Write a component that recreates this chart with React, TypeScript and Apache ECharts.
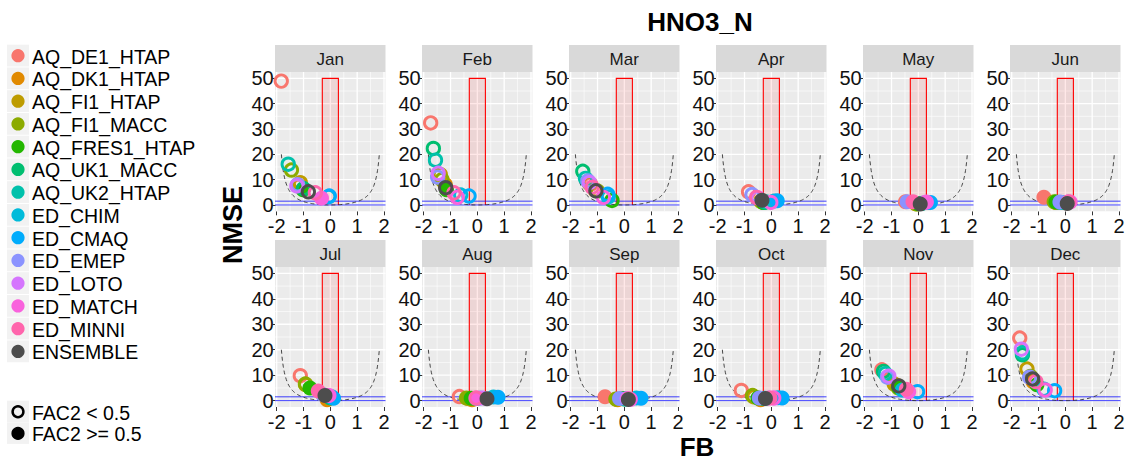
import React, { useEffect, useRef } from "react";
import * as echarts from "echarts";

const MODELS = [
  "AQ_DE1_HTAP", "AQ_DK1_HTAP", "AQ_FI1_HTAP", "AQ_FI1_MACC", "AQ_FRES1_HTAP",
  "AQ_UK1_MACC", "AQ_UK2_HTAP", "ED_CHIM", "ED_CMAQ", "ED_EMEP", "ED_LOTO",
  "ED_MATCH", "ED_MINNI", "ENSEMBLE",
];
const COLORS = [
  "#F8766D", "#E18A00", "#BE9C00", "#8CAB00", "#24B700", "#00BE70", "#00C1AB",
  "#00BBDA", "#00ACFC", "#8B93FF", "#D575FE", "#F962DD", "#FF65AC", "#4D4D4D",
];
const MONTHS = ["Jan", "Feb", "Mar", "Apr", "May", "Jun", "Jul", "Aug", "Sep", "Oct", "Nov", "Dec"];

// model order as in MODELS; FAC2: 1 = FAC2 >= 0.5 (filled), 0 = FAC2 < 0.5 (open)
const JAN_FB = [-1.83, -1.15, -1.12, -1.45, -1.02, -1.0, -1.57, -0.06, -0.04, -1.22, -1.25, -0.33, -0.56, -0.82];
const JAN_NMSE = [48.9, 7.5, 8.8, 13.8, 6.0, 6.5, 16.1, 3.3, 3.5, 8.0, 7.5, 2.7, 4.8, 5.2];
const JAN_FAC2 = [0, 0, 0, 0, 1, 0, 0, 0, 0, 0, 0, 1, 0, 0];

const FEB_FB = [-1.74, -1.2, -1.38, -1.32, -1.15, -1.64, -1.56, -0.62, -0.31, -1.48, -1.46, -0.75, -0.87, -1.18];
const FEB_NMSE = [32.4, 8.0, 12.0, 10.0, 6.0, 22.3, 17.7, 3.9, 3.5, 11.0, 12.5, 3.0, 4.8, 6.8];
const FEB_FAC2 = [0, 0, 0, 0, 1, 0, 0, 0, 0, 0, 0, 0, 0, 0];

const MAR_FB = [-1.26, -1.1, -1.3, -1.0, -0.46, -1.55, -1.45, -0.6, -0.62, -1.36, -1.3, -0.78, -1.2, -1.06];
const MAR_NMSE = [8.2, 6.0, 8.5, 5.5, 1.8, 13.3, 10.5, 3.2, 4.2, 9.5, 8.8, 3.0, 7.0, 5.6];
const MAR_FAC2 = [0, 0, 0, 0, 0, 0, 0, 0, 0, 0, 0, 0, 0, 0];

const APR_FB = [-0.85, -0.3, -0.4, -0.35, -0.3, -0.25, -0.2, 0.1, 0.22, -0.72, -0.5, -0.02, -0.55, -0.35];
const APR_NMSE = [5.2, 1.0, 1.5, 1.2, 1.0, 1.0, 1.3, 1.6, 1.7, 4.1, 2.8, 1.0, 3.0, 1.9];
const APR_FAC2 = [0, 1, 1, 1, 1, 1, 1, 1, 1, 0, 0, 0, 0, 1];

const MAY_FB = [-0.48, -0.1, -0.05, -0.07, 0.0, 0.1, 0.15, 0.35, 0.45, -0.42, 0.25, 0.3, -0.2, 0.07];
const MAY_NMSE = [1.3, 0.5, 0.5, 0.4, 0.5, 0.6, 0.7, 1.0, 1.0, 1.3, 1.0, 1.2, 1.3, 0.4];
const MAY_FAC2 = [1, 1, 1, 1, 1, 1, 1, 1, 1, 1, 1, 1, 1, 1];

const JUN_FB = [-0.8, -0.35, -0.38, -0.42, -0.35, -0.2, -0.15, 0.05, 0.1, -0.2, 0.1, 0.18, 0.12, 0.07];
const JUN_NMSE = [3.0, 1.0, 1.1, 1.3, 1.2, 1.0, 1.0, 1.0, 1.1, 1.2, 1.2, 1.2, 1.3, 0.6];
const JUN_FAC2 = [1, 1, 1, 1, 1, 1, 1, 1, 1, 1, 1, 1, 1, 1];

const JUL_FB = [-1.12, -0.12, -0.92, -0.93, -0.76, 0.0, 0.05, 0.05, 0.12, -0.3, -0.1, -0.05, -0.45, -0.2];
const JUL_NMSE = [9.8, 0.3, 6.3, 6.5, 5.0, 1.0, 1.2, 1.5, 0.9, 2.5, 2.0, 2.0, 3.8, 2.0];
const JUL_FAC2 = [0, 1, 0, 0, 1, 1, 1, 1, 1, 1, 1, 1, 1, 1];

const AUG_FB = [-0.67, -0.2, -0.35, -0.41, -0.23, -0.05, 0.0, 0.6, 0.77, 0.1, 0.2, 0.0, -0.05, 0.36];
const AUG_NMSE = [1.6, 0.3, 0.8, 1.0, 0.9, 0.8, 0.8, 1.4, 1.3, 1.0, 1.0, 0.9, 1.0, 0.7];
const AUG_FAC2 = [0, 1, 1, 1, 1, 1, 1, 1, 1, 1, 1, 1, 0, 1];

const SEP_FB = [-0.72, -0.25, -0.3, -0.32, -0.05, 0.0, 0.05, 0.45, 0.62, -0.18, 0.1, 0.22, 0.15, 0.15];
const SEP_NMSE = [1.5, 0.3, 0.5, 0.6, 0.8, 0.6, 0.6, 1.0, 0.9, 0.8, 0.8, 0.5, 0.7, 0.4];
const SEP_FAC2 = [1, 1, 1, 1, 1, 1, 1, 1, 1, 1, 1, 0, 1, 1];

const OCT_FB = [-1.12, -0.4, -0.65, -0.7, -0.5, -0.3, -0.25, 0.25, 0.4, -0.45, -0.1, 0.09, -0.05, -0.22];
const OCT_NMSE = [4.0, 0.3, 1.5, 2.0, 1.0, 0.8, 0.9, 1.1, 1.0, 1.0, 1.0, 1.0, 1.0, 0.8];
const OCT_FAC2 = [0, 1, 0, 0, 1, 1, 1, 1, 1, 1, 1, 0, 1, 1];

const NOV_FB = [-1.36, -0.8, -0.9, -0.75, -0.73, -1.3, -1.23, -0.6, -0.03, -1.15, -1.1, -0.36, -0.45, -0.73];
const NOV_NMSE = [12.1, 6.0, 6.5, 5.0, 5.3, 11.5, 10.6, 4.2, 3.5, 9.2, 9.6, 3.5, 4.5, 5.8];
const NOV_FAC2 = [0, 1, 0, 1, 1, 0, 0, 1, 0, 0, 0, 1, 1, 0];

const DEC_FB = [-1.7, -1.2, -1.43, -1.3, -1.06, -1.6, -1.6, -0.8, -0.4, -1.33, -1.64, -0.75, -1.1, -1.22];
const DEC_NMSE = [24.6, 7.5, 12.4, 9.5, 6.2, 18.0, 18.8, 4.5, 3.9, 9.2, 20.2, 4.2, 7.5, 8.5];
const DEC_FAC2 = [0, 0, 0, 0, 1, 0, 0, 0, 0, 0, 0, 0, 0, 0];

const FB_BY_MONTH = [JAN_FB, FEB_FB, MAR_FB, APR_FB, MAY_FB, JUN_FB, JUL_FB, AUG_FB, SEP_FB, OCT_FB, NOV_FB, DEC_FB];
const NMSE_BY_MONTH = [JAN_NMSE, FEB_NMSE, MAR_NMSE, APR_NMSE, MAY_NMSE, JUN_NMSE, JUL_NMSE, AUG_NMSE, SEP_NMSE, OCT_NMSE, NOV_NMSE, DEC_NMSE];
const FAC2_BY_MONTH = [JAN_FAC2, FEB_FAC2, MAR_FAC2, APR_FAC2, MAY_FAC2, JUN_FAC2, JUL_FAC2, AUG_FAC2, SEP_FAC2, OCT_FAC2, NOV_FAC2, DEC_FAC2];

const X_TICKS = [-2, -1, 0, 1, 2];
const X_MINOR = [-1.5, -0.5, 0.5, 1.5];
const Y_TICKS = [0, 10, 20, 30, 40, 50];
const Y_MINOR = [5, 15, 25, 35, 45];
const FB_GOAL = [-0.3, 0.3];
const NMSE_BOX_TOP = 50;
const NMSE_LINES = [0, 1.5];
const CURVE_MAX_NMSE = 20;

const FONT = '"Liberation Sans", Arial, sans-serif';

// theoretical minimum NMSE for a given FB: 4FB^2/(4-FB^2), drawn up to NMSE = 20
function boundaryCurve(): number[][] {
  const fbMax = Math.sqrt((4 * CURVE_MAX_NMSE) / (4 + CURVE_MAX_NMSE));
  const pts: number[][] = [];
  const n = 160;
  for (let i = 0; i <= n; i++) {
    const fb = -fbMax + (2 * fbMax * i) / n;
    pts.push([fb, (4 * fb * fb) / (4 - fb * fb)]);
  }
  return pts;
}

const PANEL_LEFT0 = 275;
const PANEL_STEP = 147;
const PANEL_W = 110.5;
const GRID_OFF = 1.7;
const GRID_W = 107.3;
const ROW_TOP = [72, 267];
const ROW_H = [139.3, 140];
const STRIP_H = 27;

export default function App() {
  const ref = useRef<HTMLDivElement>(null);

  useEffect(() => {
    if (!ref.current) return;
    const chart = echarts.init(ref.current, undefined, { renderer: "svg" });

    const grids: any[] = [];
    const xAxes: any[] = [];
    const yAxes: any[] = [];
    const series: any[] = [];
    const graphics: any[] = [];
    const curve = boundaryCurve();

    const gridLineData: number[][] = [
      ...Y_TICKS.map((v) => [0, v, 1]),
      ...Y_MINOR.map((v) => [0, v, 0]),
      ...X_TICKS.map((v) => [1, v, 1]),
      ...X_MINOR.map((v) => [1, v, 0]),
    ];

    MONTHS.forEach((m, i) => {
      const r = Math.floor(i / 6);
      const c = i % 6;
      const pl = PANEL_LEFT0 + c * PANEL_STEP;
      grids.push({ left: pl + GRID_OFF, top: ROW_TOP[r], width: GRID_W, height: ROW_H[r], show: false });

      xAxes.push({
        gridIndex: i, type: "value", min: -2, max: 2, interval: 1,
        axisLine: { show: false, onZero: false },
        axisTick: { show: true, length: 4, lineStyle: { color: "#333", width: 1 } },
        axisLabel: { fontSize: 20, color: "#111", margin: 5, fontFamily: FONT },
        splitLine: { show: false },
        axisPointer: { show: false },
      });
      yAxes.push({
        gridIndex: i, type: "value", min: -2.5, max: 52.5,
        axisLine: { show: false, onZero: false },
        axisTick: { show: true, length: 4, lineStyle: { color: "#333", width: 1 }, customValues: Y_TICKS },
        axisLabel: { fontSize: 20, color: "#111", margin: 3, fontFamily: FONT, customValues: Y_TICKS },
        splitLine: { show: false },
        axisPointer: { show: false },
      });

      // panel background & strip
      graphics.push({
        type: "rect", z: -10, silent: true,
        shape: { x: pl, y: ROW_TOP[r], width: PANEL_W, height: ROW_H[r] },
        style: { fill: "#EBEBEB" },
      });
      graphics.push({
        type: "rect", z: -10, silent: true,
        shape: { x: pl, y: ROW_TOP[r] - STRIP_H, width: PANEL_W, height: STRIP_H },
        style: { fill: "#D9D9D9" },
      });
      graphics.push({
        type: "text", silent: true, x: pl + PANEL_W / 2, y: ROW_TOP[r] - STRIP_H / 2 + 1,
        style: { text: m, fill: "#1a1a1a", font: `17px ${FONT}`, align: "center", verticalAlign: "middle" },
      });

      // grid lines
      series.push({
        type: "custom", xAxisIndex: i, yAxisIndex: i, z: 1, silent: true, clip: false,
        data: gridLineData,
        renderItem: (params: any, api: any) => {
          const o = api.value(0), v = api.value(1), major = api.value(2);
          const cs = params.coordSys;
          const w = major ? 1.3 : 0.6;
          if (o === 0) {
            const p = api.coord([0, v]);
            return { type: "line", shape: { x1: cs.x - GRID_OFF, y1: p[1], x2: cs.x + cs.width + (PANEL_W - GRID_W - GRID_OFF), y2: p[1] }, style: { stroke: "#fff", lineWidth: w } };
          }
          const p = api.coord([v, 0]);
          return { type: "line", shape: { x1: p[0], y1: cs.y, x2: p[0], y2: cs.y + cs.height }, style: { stroke: "#fff", lineWidth: w } };
        },
      });

      // goal box and NMSE lines
      series.push({
        type: "custom", xAxisIndex: i, yAxisIndex: i, z: 2, silent: true, clip: false,
        data: [[0, 0]],
        renderItem: (params: any, api: any) => {
          const cs = params.coordSys;
          const a = api.coord([FB_GOAL[0], NMSE_BOX_TOP]);
          const b = api.coord([FB_GOAL[1], 0]);
          const children: any[] = [
            { type: "rect", shape: { x: a[0], y: a[1], width: b[0] - a[0], height: b[1] - a[1] }, style: { fill: "rgba(255,0,0,0.09)", stroke: "none" } },
            { type: "polyline", shape: { points: [[a[0], b[1]], [a[0], a[1]], [b[0], a[1]], [b[0], b[1]]] }, style: { fill: "none", stroke: "#FF0000", lineWidth: 1.1 } },
          ];
          NMSE_LINES.forEach((v) => {
            const p = api.coord([0, v]);
            children.push({ type: "line", shape: { x1: cs.x - GRID_OFF, y1: p[1], x2: cs.x + cs.width + (PANEL_W - GRID_W - GRID_OFF), y2: p[1] }, style: { stroke: "rgba(0,0,255,0.75)", lineWidth: 1 } });
          });
          return { type: "group", children };
        },
      });

      series.push({
        type: "line", xAxisIndex: i, yAxisIndex: i, z: 3, silent: true,
        data: curve, showSymbol: false, symbol: "none",
        lineStyle: { color: "#333", width: 0.9, type: [4, 3] },
      });

      const fbs = FB_BY_MONTH[i], nm = NMSE_BY_MONTH[i], fac = FAC2_BY_MONTH[i];
      series.push({
        type: "scatter", xAxisIndex: i, yAxisIndex: i, z: 4, silent: true,
        emphasis: { disabled: true },
        data: MODELS.map((_, k) => {
          const filled = fac[k] === 1;
          return {
            value: [fbs[k], nm[k]],
            symbol: "circle",
            symbolSize: filled ? 15 : 12.4,
            itemStyle: filled
              ? { color: COLORS[k], opacity: 1 }
              : { color: "rgba(0,0,0,0)", borderColor: COLORS[k], borderWidth: 2.9, opacity: 1 },
          };
        }),
      });
    });

    // titles
    graphics.push({
      type: "text", silent: true, x: 700, y: 22,
      style: { text: "HNO3_N", fill: "#000", font: `bold 26px ${FONT}`, align: "center", verticalAlign: "middle" },
    });
    graphics.push({
      type: "text", silent: true, x: 697, y: 447,
      style: { text: "FB", fill: "#000", font: `bold 26px ${FONT}`, align: "center", verticalAlign: "middle" },
    });
    graphics.push({
      type: "text", silent: true, x: 233, y: 225, rotation: Math.PI / 2,
      style: { text: "NMSE", fill: "#000", font: `bold 27px ${FONT}`, align: "center", verticalAlign: "middle" },
    });

    // legend (colour)
    MODELS.forEach((name, k) => {
      const cy = 55.7 + k * 22.75;
      graphics.push({ type: "rect", silent: true, shape: { x: 7, y: cy - 11, width: 22, height: 21.8 }, style: { fill: "#F2F2F2" } });
      graphics.push({ type: "circle", silent: true, shape: { cx: 18, cy, r: 6.6 }, style: { fill: COLORS[k] } });
      graphics.push({
        type: "text", silent: true, x: 32, y: cy + 1,
        style: { text: name, fill: "#000", font: `19.5px ${FONT}`, align: "left", verticalAlign: "middle" },
      });
    });
    // legend (FAC2)
    const facLabels = ["FAC2 < 0.5", "FAC2 >= 0.5"];
    facLabels.forEach((label, k) => {
      const cy = 411.7 + k * 21.7;
      graphics.push({ type: "rect", silent: true, shape: { x: 7, y: cy - 11, width: 22, height: 21.5 }, style: { fill: "#F2F2F2" } });
      graphics.push({
        type: "circle", silent: true, shape: { cx: 18, cy, r: k === 0 ? 5.4 : 6.6 },
        style: k === 0 ? { fill: "none", stroke: "#000", lineWidth: 2.5 } : { fill: "#000" },
      });
      graphics.push({
        type: "text", silent: true, x: 32, y: cy + 1,
        style: { text: label, fill: "#000", font: `19.5px ${FONT}`, align: "left", verticalAlign: "middle" },
      });
    });

    chart.setOption({
      animation: false,
      backgroundColor: "#fff",
      textStyle: { fontFamily: FONT },
      grid: grids,
      xAxis: xAxes,
      yAxis: yAxes,
      series,
      graphic: { elements: graphics },
    });

    return () => chart.dispose();
  }, []);

  return <div ref={ref} style={{ position: "absolute", left: 0, top: 0, width: 1130, height: 461 }} />;
}
